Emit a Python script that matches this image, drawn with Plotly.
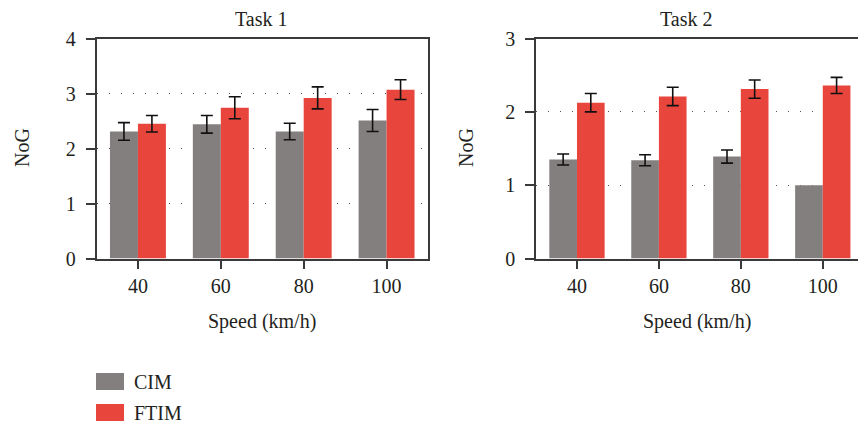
import plotly.graph_objects as go
from plotly.subplots import make_subplots

# Speed categories shown on both panels
speeds = ["40", "60", "80", "100"]
series_names = ["CIM", "FTIM"]
colors = ["#837f7e", "#e8453d"]

# Task 1: mean NoG and error per speed
task1_cim = [2.31, 2.44, 2.31, 2.51]
task1_cim_err = [0.16, 0.16, 0.15, 0.20]
task1_ftim = [2.45, 2.74, 2.92, 3.07]
task1_ftim_err = [0.15, 0.20, 0.20, 0.18]

# Task 2: mean NoG and error per speed (no error bar at 100 for CIM)
task2_cim = [1.35, 1.34, 1.39, 1.0]
task2_cim_err = [0.075, 0.075, 0.09, None]
task2_ftim = [2.125, 2.21, 2.31, 2.36]
task2_ftim_err = [0.125, 0.125, 0.125, 0.11]

W, H = 858, 423
FONT = "Liberation Serif"
TXT = "#231f20"
AX = "#3a3a3a"


def err_array(errs):
    # plotly treats null as zero (cap still drawn); an index past the end is skipped
    out = list(errs)
    while out and out[-1] is None:
        out.pop()
    return out


fig = make_subplots(rows=1, cols=2)

panels = [
    (1, [task1_cim, task1_ftim], [task1_cim_err, task1_ftim_err]),
    (2, [task2_cim, task2_ftim], [task2_cim_err, task2_ftim_err]),
]
for col, vals, errs in panels:
    for name, color, v, e in zip(series_names, colors, vals, errs):
        fig.add_trace(
            go.Bar(
                x=speeds, y=v, name=name, marker_color=color,
                marker_line_width=0, showlegend=False,
                error_y=dict(type="data", array=err_array(e), visible=True,
                             color="#111111", thickness=1.6, width=6),
            ),
            row=1, col=col,
        )

# pixel helpers for paper coordinates
px = lambda x: x / W
py = lambda y: 1 - y / H

y_dom = [py(258.5), py(38.5)]
left_dom = [px(96.5), px(428)]
right_dom = [px(536), 1.0]

common_y = dict(
    showline=True, linecolor=AX, linewidth=1.5,
    ticks="outside", ticklen=9, tickwidth=1.5, tickcolor=AX,
    tickfont=dict(family=FONT, size=20, color=TXT),
    showgrid=True, gridcolor="#555555", gridwidth=1, griddash="1px,11px",
    zeroline=False, dtick=1, ticklabelstandoff=6, automargin=False,
)
common_x = dict(
    showline=True, linecolor=AX, linewidth=1.5, mirror=True,
    ticks="outside", ticklen=9, tickwidth=1.5, tickcolor=AX,
    tickfont=dict(family=FONT, size=20, color=TXT),
    showgrid=False, zeroline=False, type="category", automargin=False,
)

fig.update_xaxes(domain=left_dom, range=[-0.5, 3.5], row=1, col=1, **common_x)
fig.update_xaxes(domain=right_dom, range=[-0.5, 3.43], row=1, col=2, **common_x)
fig.update_yaxes(domain=y_dom, range=[0, 4], mirror=True, row=1, col=1, **common_y)
fig.update_yaxes(domain=y_dom, range=[0, 3], mirror=False, row=1, col=2, **common_y)

tfont = dict(family=FONT, size=20, color=TXT)
annotations = [
    dict(text="Task 1", x=px(261), y=py(19), xref="paper", yref="paper",
         showarrow=False, font=tfont, xanchor="center", yanchor="middle"),
    dict(text="Task 2", x=px(686), y=py(19), xref="paper", yref="paper",
         showarrow=False, font=tfont, xanchor="center", yanchor="middle"),
    dict(text="Speed (km/h)", x=px(262), y=py(321), xref="paper", yref="paper",
         showarrow=False, font=tfont, xanchor="center", yanchor="middle"),
    dict(text="Speed (km/h)", x=px(697), y=py(321), xref="paper", yref="paper",
         showarrow=False, font=tfont, xanchor="center", yanchor="middle"),
    dict(text="NoG", x=px(22), y=py(148), xref="paper", yref="paper",
         showarrow=False, font=tfont, textangle=-90, xanchor="center", yanchor="middle"),
    dict(text="NoG", x=px(466), y=py(148), xref="paper", yref="paper",
         showarrow=False, font=tfont, textangle=-90, xanchor="center", yanchor="middle"),
]

# legend drawn as swatches with labels below the left panel
shapes = []
for i, (name, color) in enumerate(zip(series_names, colors)):
    top = 373 + i * 31
    shapes.append(dict(type="rect", xref="paper", yref="paper",
                       x0=px(96), x1=px(124), y0=py(top + 17), y1=py(top),
                       fillcolor=color, line_width=0))
    annotations.append(dict(text=name, x=px(132), y=py(top + 8.5), xref="paper",
                            yref="paper", showarrow=False, font=tfont,
                            xanchor="left", yanchor="middle"))

fig.update_layout(
    width=W, height=H,
    margin=dict(l=0, r=0, t=0, b=0, autoexpand=False),
    paper_bgcolor="white", plot_bgcolor="white",
    barmode="group", bargap=0.325, bargroupgap=0,
    annotations=annotations, shapes=shapes,
    font=dict(family=FONT, color=TXT),
)

fig.write_html("out.html")
